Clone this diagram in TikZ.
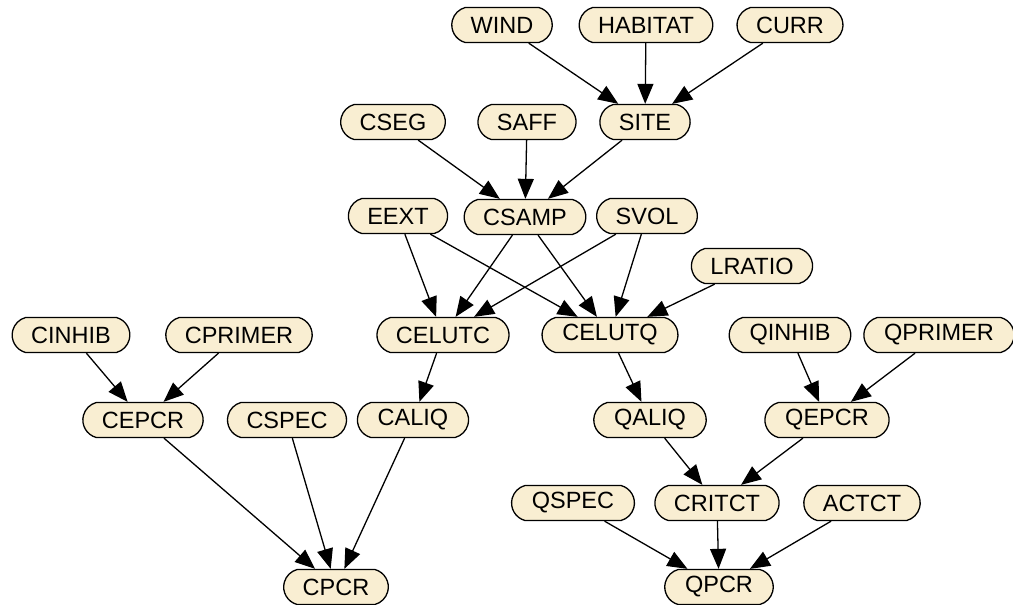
\documentclass[tikz,border=0pt]{standalone}
\usepackage{fontspec}
\setmainfont{Liberation Sans}
\usetikzlibrary{shapes.misc,arrows.meta}
\definecolor{nodefill}{RGB}{249,238,210}
\tikzset{
  var/.style={rounded rectangle, rounded rectangle arc length=150,
    draw=black, line width=1.3pt, fill=nodefill,
    minimum height=35pt, inner xsep=17pt, inner ysep=0pt,
    font=\fontsize{23.5}{26}\selectfont},
  link/.style={line width=1.3pt, -{Triangle[length=20pt,width=16pt]}}
}
\begin{document}
\begin{tikzpicture}[x=1pt,y=-1pt]
\useasboundingbox (0,0) rectangle (1013,605);
% top tier
\node[var] (WIND) at (502,25) {WIND};
\node[var] (HABITAT) at (646,25) {HABITAT};
\node[var] (CURR) at (790,25) {CURR};
% sampling
\node[var] (CSEG) at (393,122) {CSEG};
\node[var] (SAFF) at (527,122) {SAFF};
\node[var] (SITE) at (645,122) {SITE};
\node[var] (EEXT) at (398,216) {EEXT};
\node[var] (CSAMP) at (525,217) {CSAMP};
\node[var] (SVOL) at (647,216) {SVOL};
\node[var] (LRATIO) at (752,266) {LRATIO};
% elution / inhibition
\node[var] (CINHIB) at (71,335) {CINHIB};
\node[var] (CPRIMER) at (239,335) {CPRIMER};
\node[var] (CELUTC) at (443,335) {CELUTC};
\node[var] (CELUTQ) at (610,335) {CELUTQ};
\node[var] (QINHIB) at (790,335) {QINHIB};
\node[var] (QPRIMER) at (939,335) {QPRIMER};
% aliquots and pcr
\node[var] (CEPCR) at (143,420) {CEPCR};
\node[var] (CSPEC) at (287,420) {CSPEC};
\node[var] (CALIQ) at (413,420) {CALIQ};
\node[var] (QALIQ) at (650,420) {QALIQ};
\node[var] (QEPCR) at (827,420) {QEPCR};
\node[var] (QSPEC) at (573,503) {QSPEC};
\node[var] (CRITCT) at (717,503) {CRITCT};
\node[var] (ACTCT) at (862,503) {ACTCT};
\node[var] (CPCR) at (336,587) {CPCR};
\node[var] (QPCR) at (719,587) {QPCR};
% dependencies
\foreach \a/\b in {WIND/SITE, HABITAT/SITE, CURR/SITE,
  CSEG/CSAMP, SAFF/CSAMP, SITE/CSAMP,
  EEXT/CELUTC, EEXT/CELUTQ, CSAMP/CELUTC, CSAMP/CELUTQ,
  SVOL/CELUTC, SVOL/CELUTQ, LRATIO/CELUTQ,
  CINHIB/CEPCR, CPRIMER/CEPCR, CELUTC/CALIQ, CELUTQ/QALIQ,
  QINHIB/QEPCR, QPRIMER/QEPCR,
  CEPCR/CPCR, CSPEC/CPCR, CALIQ/CPCR,
  QALIQ/CRITCT, QEPCR/CRITCT,
  QSPEC/QPCR, CRITCT/QPCR, ACTCT/QPCR}
  \draw[link] (\a) -- (\b);
\end{tikzpicture}
\end{document}
